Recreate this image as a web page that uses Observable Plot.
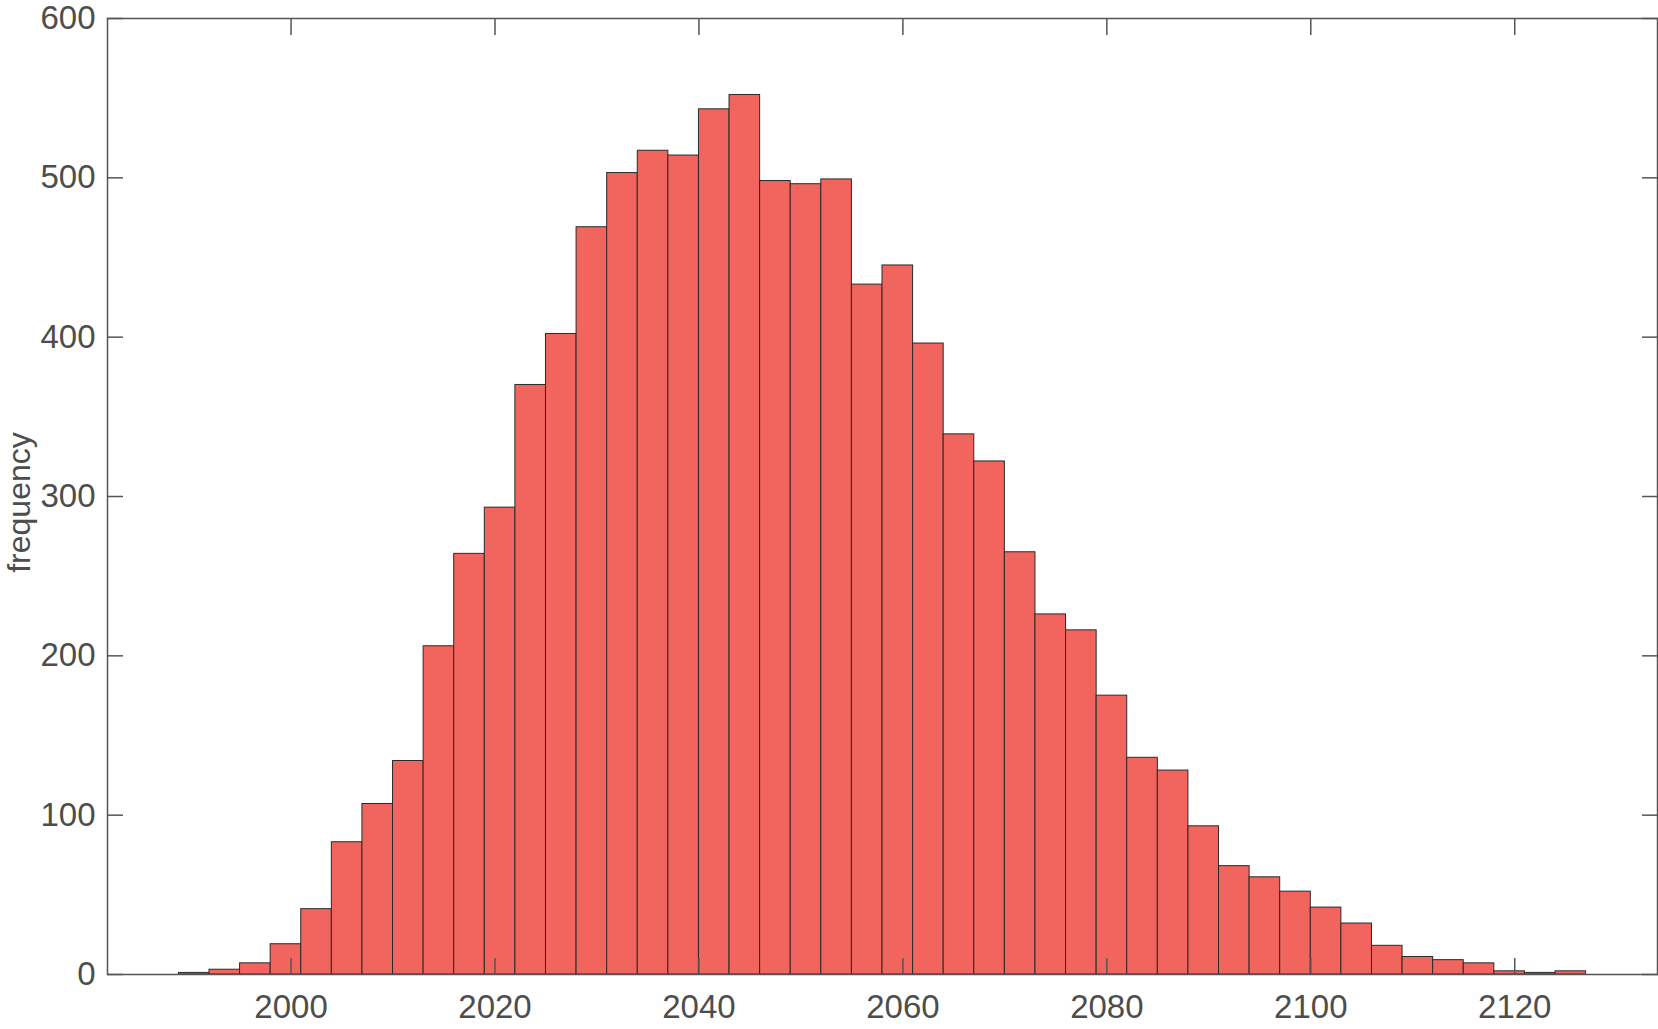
<!DOCTYPE html>
<html>
<head>
<meta charset="utf-8">
<script src="https://cdn.jsdelivr.net/npm/d3@7"></script>
<script src="https://cdn.jsdelivr.net/npm/@observablehq/plot@0.6"></script>
<style>
  html, body { margin: 0; padding: 0; background: #fff; }
  #chart { width: 1658px; height: 1029px; }
</style>
</head>
<body>
<div id="chart"></div>
<script>
// Histogram bin edges (bin width 3)
const binEdges = [1989,1992,1995,1998,2001,2004,2007,2010,2013,2016,2019,2022,2025,2028,2031,2034,2037,2040,2043,2046,2049,2052,2055,2058,2061,2064,2067,2070,2073,2076,2079,2082,2085,2088,2091,2094,2097,2100,2103,2106,2109,2112,2115,2118,2121,2124,2127];
// Frequency of each bin
const counts = [1,3,7,19,41,83,107,134,206,264,293,370,402,469,503,517,514,543,552,498,496,499,433,445,396,339,322,265,226,216,175,136,128,93,68,61,52,42,32,18,11,9,7,2,1,2];
// Axis ticks
const xTicks = [2000,2020,2040,2060,2080,2100,2120];
const yTicks = [0,100,200,300,400,500,600];
const yLabel = "frequency";

const bins = counts.map((c, i) => ({x1: binEdges[i], x2: binEdges[i + 1], count: c}));

const axisColor = "#555555";
const textColor = "#4d4d4d";

const chart = Plot.plot({
  width: 1658,
  height: 1029,
  marginLeft: 107,
  marginRight: 1,
  marginTop: 18,
  marginBottom: 55,
  style: {fontFamily: "'Liberation Sans', Arial, sans-serif", fontSize: "33px", color: textColor, background: "#fff"},
  x: {domain: [1982, 2134]},
  y: {domain: [0, 600]},
  marks: [
    Plot.rectY(bins, {x1: "x1", x2: "x2", y: "count", fill: "#F2655E", stroke: "#2a2a2a", strokeWidth: 1}),
    Plot.frame({stroke: axisColor, strokeWidth: 1.5}),
    // inward ticks on all four sides
    Plot.axisX(xTicks, {anchor: "bottom", tickSize: -16, text: null, stroke: axisColor, strokeWidth: 1.5, label: null}),
    Plot.axisX(xTicks, {anchor: "top", tickSize: -16, text: null, stroke: axisColor, strokeWidth: 1.5, label: null}),
    Plot.axisY(yTicks, {anchor: "left", tickSize: -16, text: null, stroke: axisColor, strokeWidth: 1.5, label: null}),
    Plot.axisY(yTicks, {anchor: "right", tickSize: -16, text: null, stroke: axisColor, strokeWidth: 1.5, label: null}),
    // tick labels
    Plot.axisX(xTicks, {anchor: "bottom", tickSize: 0, tickPadding: 20, fill: textColor, label: null, tickFormat: d => String(d)}),
    Plot.axisY(yTicks, {anchor: "left", tickSize: 0, tickPadding: 12, fill: textColor, label: null}),
    Plot.text([yLabel], {frameAnchor: "left", dx: -88, dy: 6, rotate: -90, fill: textColor, fontSize: 32, textAnchor: "middle"})
  ]
});
document.getElementById("chart").appendChild(chart);
</script>
</body>
</html>
